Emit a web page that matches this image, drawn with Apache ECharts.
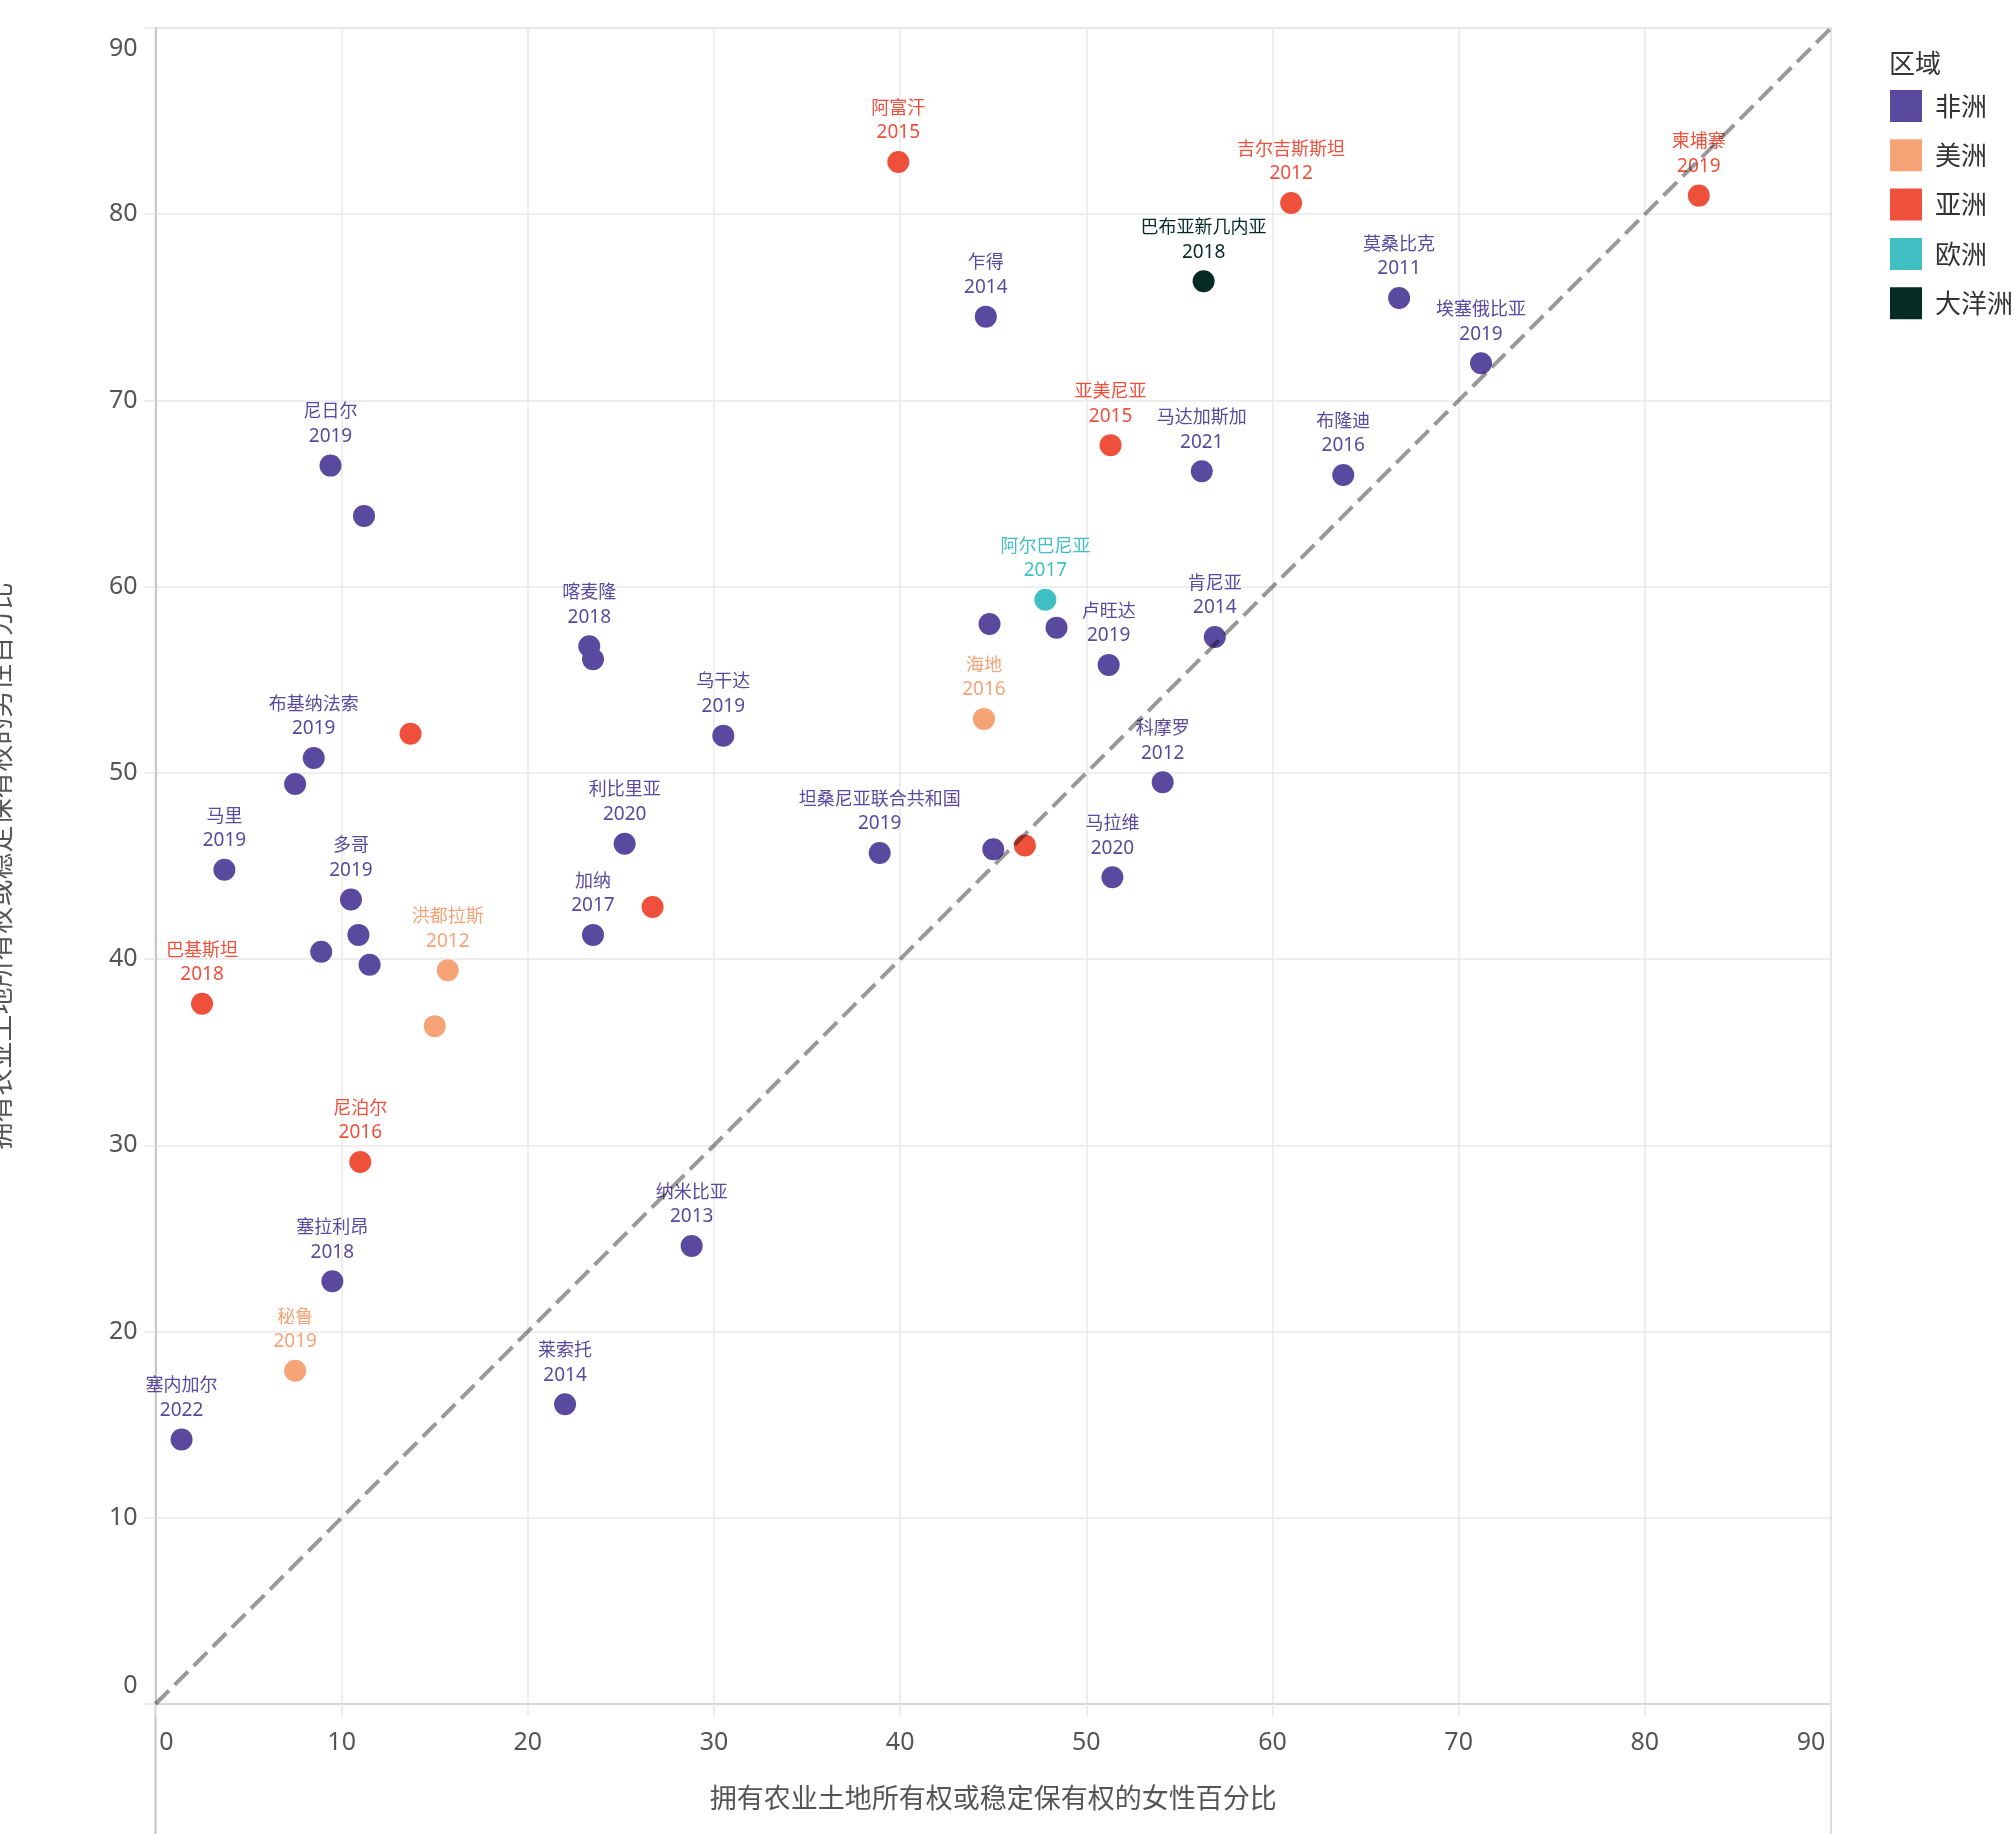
<!DOCTYPE html>
<html><head><meta charset="utf-8">
<script src="https://cdn.jsdelivr.net/npm/echarts@6/dist/echarts.min.js"></script>
<style>html,body{margin:0;padding:0;background:#fff}#c{width:2012px;height:1834px}</style>
</head><body><div id="c"></div>
<script>
// ---- data ----
const regions = ['非洲', '美洲', '亚洲', '欧洲', '大洋洲'];
const regionColors = ['#5a4a9f', '#f5a377', '#ef503c', '#41c0c4', '#052b22'];
const axisTicks = [0, 10, 20, 30, 40, 50, 60, 70, 80, 90];
const diagonal = [0, 90];

const africaX = [9.4, 11.2, 44.6, 56.2, 66.8, 71.2, 63.8, 23.3, 23.5, 8.5, 7.5, 3.7, 10.5, 10.9, 8.9, 11.5, 25.2, 23.5, 44.8, 48.4, 51.2, 56.9, 30.5, 54.1, 38.9, 45.0, 51.4, 9.5, 1.4, 22.0, 28.8];
const africaY = [66.5, 63.8, 74.5, 66.2, 75.5, 72.0, 66.0, 56.8, 56.1, 50.8, 49.4, 44.8, 43.2, 41.3, 40.4, 39.7, 46.2, 41.3, 58.0, 57.8, 55.8, 57.3, 52.0, 49.5, 45.7, 45.9, 44.4, 22.7, 14.2, 16.1, 24.6];
const africaName = ['尼日尔', '', '乍得', '马达加斯加', '莫桑比克', '埃塞俄比亚', '布隆迪', '喀麦隆', '', '布基纳法索', '', '马里', '多哥', '', '', '', '利比里亚', '加纳', '', '', '卢旺达', '肯尼亚', '乌干达', '科摩罗', '坦桑尼亚联合共和国', '', '马拉维', '塞拉利昂', '塞内加尔', '莱索托', '纳米比亚'];
const africaYear = [2019, null, 2014, 2021, 2011, 2019, 2016, 2018, null, 2019, null, 2019, 2019, null, null, null, 2020, 2017, null, null, 2019, 2014, 2019, 2012, 2019, null, 2020, 2018, 2022, 2014, 2013];

const americasX = [44.5, 15.7, 15.0, 7.5];
const americasY = [52.9, 39.4, 36.4, 17.9];
const americasName = ['海地', '洪都拉斯', '', '秘鲁'];
const americasYear = [2016, 2012, null, 2019];

const asiaX = [39.9, 61.0, 82.9, 51.3, 13.7, 2.5, 11.0, 26.7, 46.7];
const asiaY = [82.8, 80.6, 81.0, 67.6, 52.1, 37.6, 29.1, 42.8, 46.1];
const asiaName = ['阿富汗', '吉尔吉斯斯坦', '柬埔寨', '亚美尼亚', '', '巴基斯坦', '尼泊尔', '', ''];
const asiaYear = [2015, 2012, 2019, 2015, null, 2018, 2016, null, null];

const europeX = [47.8];
const europeY = [59.3];
const europeName = ['阿尔巴尼亚'];
const europeYear = [2017];

const oceaniaX = [56.3];
const oceaniaY = [76.4];
const oceaniaName = ['巴布亚新几内亚'];
const oceaniaYear = [2018];

const xTitle = '拥有农业土地所有权或稳定保有权的女性百分比';
const yTitle = '拥有农业土地所有权或稳定保有权的男性百分比';
const legendTitle = '区域';

// ---- build ----
const groups = [
  [africaX, africaY, africaName, africaYear],
  [americasX, americasY, americasName, americasYear],
  [asiaX, asiaY, asiaName, asiaYear],
  [europeX, europeY, europeName, europeYear],
  [oceaniaX, oceaniaY, oceaniaName, oceaniaYear]
];
const FONT = '"Noto Sans", "Noto Sans CJK SC", sans-serif';
const CJK = '"Noto Sans CJK SC", "Noto Sans", sans-serif';

const series = groups.map((g, gi) => ({
  name: regions[gi],
  type: 'scatter',
  symbolSize: 22,
  z: 2,
  itemStyle: { color: regionColors[gi], opacity: 1 },
  label: {
    show: true,
    position: 'top',
    distance: 5,
    color: regionColors[gi],
    fontSize: 18,
    lineHeight: 26,
    fontFamily: FONT,
    formatter: p => g[2][p.dataIndex] ? '{n|' + g[2][p.dataIndex] + '}\n{y|' + g[3][p.dataIndex] + '}' : '',
    rich: {
      n: { fontSize: 18, lineHeight: 26, color: regionColors[gi], fontFamily: CJK },
      y: { fontSize: 19, lineHeight: 26, color: regionColors[gi], fontFamily: FONT }
    }
  },
  emphasis: { disabled: true },
  data: g[0].map((x, i) => [x, g[1][i]])
}));
series.push({
  type: 'line',
  name: 'diag',
  silent: true,
  z: 5,
  symbol: 'none',
  lineStyle: { color: 'rgba(0,0,0,0.4)', width: 4, type: [19, 8] },
  data: diagonal.map(v => [v, v])
});

const axisMin = axisTicks[0], axisMax = axisTicks[axisTicks.length - 1];
const step = axisTicks[1] - axisTicks[0];
const gridCol = '#e8e8e8';

const chart = echarts.init(document.getElementById('c'), null, { renderer: 'canvas' });
chart.setOption({
  animation: false,
  backgroundColor: '#fff',
  textStyle: { fontFamily: FONT },
  title: {
    text: legendTitle, left: 1889, top: 50, padding: 0,
    textStyle: { fontSize: 26, fontWeight: 'normal', color: '#333', fontFamily: CJK }
  },
  legend: {
    data: regions, orient: 'vertical', left: 1890, top: 90, padding: 0,
    icon: 'rect', itemWidth: 32, itemHeight: 32, itemGap: 17.3,
    textStyle: { fontSize: 26, color: '#333', fontFamily: CJK, lineHeight: 32, padding: [0, 0, 0, 8] }
  },
  grid: {
    left: 155.5, right: 181, top: 28, bottom: 130,
    show: true, borderColor: '#d2d2d2', borderWidth: 1.5,
    containLabel: false, outerBoundsMode: 'none'
  },
  xAxis: {
    type: 'value', min: axisMin, max: axisMax, interval: step,
    name: xTitle, nameLocation: 'middle', nameGap: 80,
    nameTextStyle: { fontSize: 27, color: '#555', fontFamily: CJK },
    axisLine: { show: true, lineStyle: { color: '#d2d2d2', width: 1.5 } },
    axisTick: { show: true, inside: false, length: 12, lineStyle: { color: gridCol, width: 1.5 } },
    splitLine: { show: true, lineStyle: { color: gridCol, width: 1.5 } },
    axisLabel: {
      fontSize: 25, color: '#555', margin: 24, lineHeight: 30, fontFamily: FONT,
      formatter: v => v === axisMin ? '{lo|' + v + '}' : v === axisMax ? '{hi|' + v + '}' : '' + v,
      rich: {
        lo: { fontSize: 25, color: '#555', lineHeight: 30, padding: [0, 0, 0, 22], fontFamily: FONT },
        hi: { fontSize: 25, color: '#555', lineHeight: 30, padding: [0, 40, 0, 0], fontFamily: FONT }
      }
    }
  },
  yAxis: {
    type: 'value', min: axisMin, max: axisMax, interval: step,
    name: yTitle, nameLocation: 'middle', nameGap: 142, nameRotate: 90,
    nameTextStyle: { fontSize: 27, color: '#555', fontFamily: CJK },
    axisLine: { show: true, lineStyle: { color: '#c6c6c6', width: 2 } },
    axisTick: { show: true, inside: false, length: 11, lineStyle: { color: gridCol, width: 1.5 } },
    splitLine: { show: true, lineStyle: { color: gridCol, width: 1.5 } },
    axisLabel: {
      fontSize: 25, color: '#555', margin: 18, fontFamily: FONT,
      formatter: v => v === axisMin ? '{lo|' + v + '}' : v === axisMax ? '{hi|' + v + '}' : '' + v,
      rich: {
        lo: { fontSize: 25, color: '#555', padding: [0, 0, 36, 0], fontFamily: FONT },
        hi: { fontSize: 25, color: '#555', padding: [42, 0, 0, 0], fontFamily: FONT }
      }
    }
  },
  series: series
});

// decorative frame extensions below the plot
const pA = chart.convertToPixel({ xAxisIndex: 0, yAxisIndex: 0 }, [axisMin, axisMin]);
const pB = chart.convertToPixel({ xAxisIndex: 0, yAxisIndex: 0 }, [axisMax, axisMax]);
const H = chart.getHeight();
chart.setOption({
  graphic: [
    { type: 'line', shape: { x1: pA[0], y1: pA[1], x2: pA[0], y2: H }, style: { stroke: '#c6c6c6', lineWidth: 2 }, silent: true },
    { type: 'line', shape: { x1: pB[0], y1: pA[1], x2: pB[0], y2: H }, style: { stroke: '#d2d2d2', lineWidth: 1.5 }, silent: true }
  ]
});
</script>
</body></html>
